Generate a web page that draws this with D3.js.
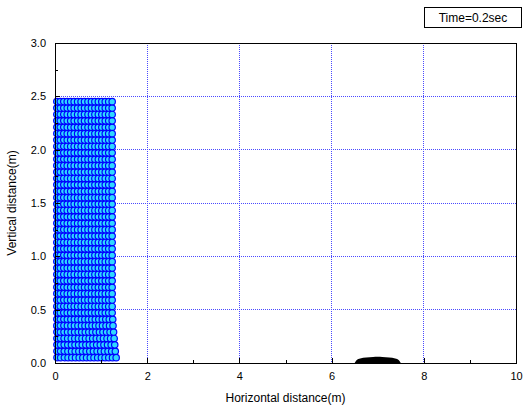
<!DOCTYPE html>
<meta charset="utf-8">
<script src="https://d3js.org/d3.v7.min.js"></script>
<style>
  body { margin: 0; background: #fff; font-family: "Liberation Sans", Arial, sans-serif; }
  .tick text { font-family: "Liberation Sans", Arial, sans-serif; font-size: 11px; fill: #000; }
</style>
<div id="chart"></div>
<script>
// particle rows (y, m) and columns (x, m) at t = 0.2 s
var rowY = [0.05, 0.11, 0.17, 0.23, 0.29, 0.35, 0.41, 0.47, 0.53, 0.59, 0.65, 0.71, 0.77, 0.83,
            0.89, 0.95, 1.01, 1.07, 1.13, 1.19, 1.25, 1.31, 1.37, 1.43, 1.49, 1.55, 1.61, 1.67,
            1.73, 1.79, 1.85, 1.91, 1.97, 2.03, 2.09, 2.15, 2.21, 2.27, 2.33, 2.39, 2.45];
var colX = [0.04, 0.115, 0.19, 0.265, 0.34, 0.415, 0.49, 0.565, 0.64, 0.715, 0.79, 0.865,
            0.94, 1.015, 1.09, 1.165, 1.24];
// horizontal stretch of the bottom rows (from the bottom up)
var rowStretch = [0.07, 0.055, 0.045, 0.035, 0.025, 0.015, 0.01];

// obstacle profile on the floor
var obstacleX = [6.5, 6.54, 6.62, 6.75, 6.9, 7.0, 7.1, 7.25, 7.38, 7.46, 7.5];
var obstacleY = [0, 0.025, 0.042, 0.052, 0.057, 0.058, 0.057, 0.052, 0.042, 0.025, 0];

var xTicks = [0, 2, 4, 6, 8, 10];
var xMinor = [1, 3, 5, 7, 9];
var yTicks = [0, 0.5, 1.0, 1.5, 2.0, 2.5, 3.0];
var yMinor = [0.25, 0.75, 1.25, 1.75, 2.25, 2.75];

var W = 525, H = 412;
var margin = {top: 43, right: 9, bottom: 49, left: 55};
var width = W - margin.left - margin.right,
    height = H - margin.top - margin.bottom;

var root = d3.select("#chart").append("svg")
    .attr("width", W).attr("height", H);

var svg = root.append("g")
    .attr("transform", "translate(" + margin.left + "," + margin.top + ")");

var x = d3.scaleLinear().domain([0, 10]).range([0, width]);
var y = d3.scaleLinear().domain([0, 3]).range([height, 0]);

// grid
svg.selectAll(".gx")
    .data(xTicks.filter(function(d) { return d > 0 && d < 10; }))
  .enter().append("line")
    .attr("x1", function(d) { return x(d); }).attr("x2", function(d) { return x(d); })
    .attr("y1", 0).attr("y2", height)
    .attr("stroke", "#4a4aff").attr("stroke-width", 1)
    .attr("stroke-dasharray", "1,1").attr("shape-rendering", "crispEdges");
svg.selectAll(".gy")
    .data(yTicks.filter(function(d) { return d > 0 && d < 3; }))
  .enter().append("line")
    .attr("y1", function(d) { return y(d); }).attr("y2", function(d) { return y(d); })
    .attr("x1", 0).attr("x2", width)
    .attr("stroke", "#4a4aff").attr("stroke-width", 1)
    .attr("stroke-dasharray", "1,1").attr("shape-rendering", "crispEdges");

// particles
var particles = [];
rowY.forEach(function(yy, i) {
  var s = i < rowStretch.length ? rowStretch[i] : 0;
  colX.forEach(function(xx) {
    particles.push({x: xx * (1 + s), y: yy});
  });
});
svg.selectAll(".p")
    .data(particles)
  .enter().append("circle")
    .attr("cx", function(d) { return x(d.x); })
    .attr("cy", function(d) { return y(d.y); })
    .attr("r", 3.2)
    .attr("fill", "#30d8ff")
    .attr("stroke", "#0000ff")
    .attr("stroke-width", 1.2);

// obstacle
var obs = obstacleX.map(function(d, i) { return [d, obstacleY[i]]; });
svg.append("path")
    .attr("d", d3.line().x(function(d) { return x(d[0]); }).y(function(d) { return y(d[1]); })
      .curve(d3.curveMonotoneX)(obs) + "Z")
    .attr("fill", "#000");

// frame
svg.append("rect")
    .attr("x", 0).attr("y", 0).attr("width", width).attr("height", height)
    .attr("fill", "none").attr("stroke", "#000").attr("stroke-width", 1)
    .attr("shape-rendering", "crispEdges");

// axes (ticks inside)
var xAxis = svg.append("g")
    .attr("transform", "translate(0," + height + ")")
    .call(d3.axisBottom(x).tickValues(xTicks).tickSize(-5).tickPadding(9)
      .tickFormat(d3.format("d")));
var yAxis = svg.append("g")
    .call(d3.axisLeft(y).tickValues(yTicks).tickSize(-5).tickPadding(9)
      .tickFormat(d3.format(".1f")));
[xAxis, yAxis].forEach(function(a) {
  a.select(".domain").remove();
  a.selectAll(".tick line").attr("stroke", "#000").attr("shape-rendering", "crispEdges");
});
svg.append("g")
    .attr("transform", "translate(0," + height + ")")
    .call(d3.axisBottom(x).tickValues(xMinor).tickSize(-3).tickFormat(""))
    .call(function(g) { g.select(".domain").remove(); })
    .selectAll(".tick line").attr("shape-rendering", "crispEdges");
svg.append("g")
    .call(d3.axisLeft(y).tickValues(yMinor).tickSize(-3).tickFormat(""))
    .call(function(g) { g.select(".domain").remove(); })
    .selectAll(".tick line").attr("shape-rendering", "crispEdges");

// axis titles
root.append("text")
    .attr("x", margin.left + width / 2).attr("y", 402)
    .attr("text-anchor", "middle")
    .style("font-size", "12px")
    .text("Horizontal distance(m)");
root.append("text")
    .attr("transform", "translate(16," + (margin.top + height / 2) + ") rotate(-90)")
    .attr("text-anchor", "middle")
    .style("font-size", "12px")
    .text("Vertical distance(m)");

// time label
root.append("rect")
    .attr("x", 424.5).attr("y", 7.5).attr("width", 97).attr("height", 20)
    .attr("fill", "#fff").attr("stroke", "#000").attr("stroke-width", 1);
root.append("text")
    .attr("x", 473).attr("y", 22)
    .attr("text-anchor", "middle")
    .style("font-size", "12px")
    .text("Time=0.2sec");
</script>
